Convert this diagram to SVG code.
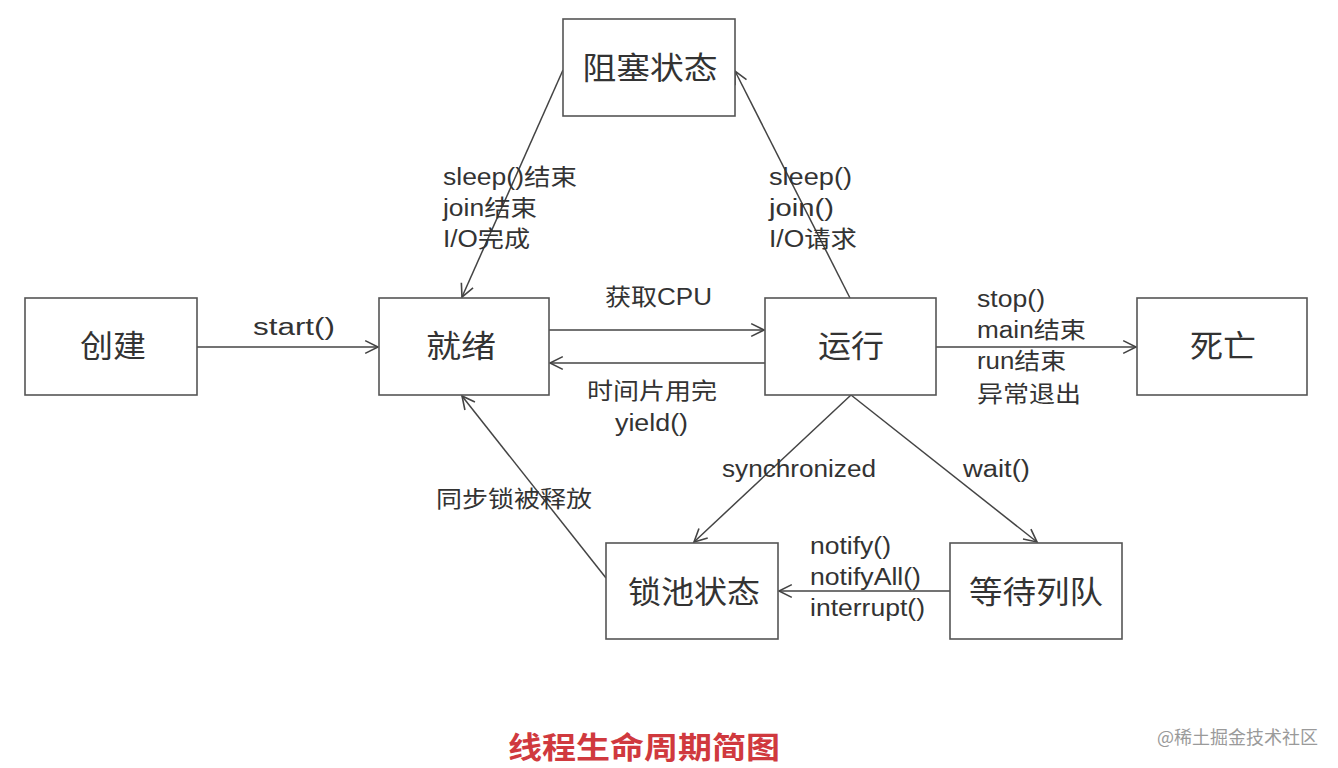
<svg xmlns="http://www.w3.org/2000/svg" width="1338" height="768" viewBox="0 0 1338 768">
<style>
.box{fill:#fff;stroke:#555;stroke-width:1.6}
.node{font-family:"Noto Sans CJK SC","Liberation Serif",serif;font-size:31px;fill:#333;text-anchor:middle}
.lbl{font-family:"Liberation Sans","Noto Sans CJK SC",sans-serif;font-size:23px;fill:#333}
.edge{stroke:#444;stroke-width:1.5;fill:none;marker-end:url(#arr)}
.title{font-family:"Noto Sans CJK SC",serif;font-size:30px;font-weight:bold;fill:#d0393e}
.wm{font-family:"Noto Sans CJK SC",sans-serif;font-size:18px;fill:#9a9a9a}
</style>
<defs>
<marker id="arr" markerUnits="userSpaceOnUse" markerWidth="16" markerHeight="16" refX="12" refY="6" orient="auto" viewBox="-1 -1 15 14">
<path d="M0,0 L12,6 L0,12" fill="none" stroke="#444" stroke-width="1.5"/>
</marker>
</defs>
<rect width="1338" height="768" fill="#fff"/>
<g id="connectors">
<line class="edge" x1="197" y1="347" x2="378" y2="347"/>
<line class="edge" x1="549" y1="330" x2="764" y2="330"/>
<line class="edge" x1="765" y1="363" x2="550" y2="363"/>
<line class="edge" x1="936" y1="347" x2="1136" y2="347"/>
<line class="edge" x1="563" y1="70" x2="462" y2="297"/>
<line class="edge" x1="850" y1="298" x2="735" y2="71"/>
<line class="edge" x1="851" y1="395" x2="694" y2="542"/>
<line class="edge" x1="851" y1="395" x2="1037" y2="542"/>
<line class="edge" x1="950" y1="591" x2="779" y2="591"/>
<line class="edge" x1="606" y1="578" x2="462" y2="396"/>
<text class="lbl" x="253" y="335" textLength="82" lengthAdjust="spacingAndGlyphs">start()</text>
<text class="lbl" x="605" y="305" textLength="107" lengthAdjust="spacingAndGlyphs">获取CPU</text>
<text class="lbl" x="587" y="399" textLength="130" lengthAdjust="spacingAndGlyphs">时间片用完</text>
<text class="lbl" x="615" y="431" textLength="73" lengthAdjust="spacingAndGlyphs">yield()</text>
<text class="lbl" x="443" y="185" textLength="134" lengthAdjust="spacingAndGlyphs">sleep()结束</text>
<text class="lbl" x="443" y="216" textLength="94" lengthAdjust="spacingAndGlyphs">join结束</text>
<text class="lbl" x="443" y="247" textLength="87" lengthAdjust="spacingAndGlyphs">I/O完成</text>
<text class="lbl" x="769" y="185" textLength="83" lengthAdjust="spacingAndGlyphs">sleep()</text>
<text class="lbl" x="769" y="216" textLength="65" lengthAdjust="spacingAndGlyphs">join()</text>
<text class="lbl" x="769" y="247" textLength="88" lengthAdjust="spacingAndGlyphs">I/O请求</text>
<text class="lbl" x="977" y="307" textLength="68" lengthAdjust="spacingAndGlyphs">stop()</text>
<text class="lbl" x="977" y="338" textLength="109" lengthAdjust="spacingAndGlyphs">main结束</text>
<text class="lbl" x="977" y="369" textLength="89" lengthAdjust="spacingAndGlyphs">run结束</text>
<text class="lbl" x="977" y="402" textLength="104" lengthAdjust="spacingAndGlyphs">异常退出</text>
<text class="lbl" x="722" y="477" textLength="154" lengthAdjust="spacingAndGlyphs">synchronized</text>
<text class="lbl" x="963" y="477" textLength="67" lengthAdjust="spacingAndGlyphs">wait()</text>
<text class="lbl" x="436" y="507" textLength="156" lengthAdjust="spacingAndGlyphs">同步锁被释放</text>
<text class="lbl" x="810" y="554" textLength="81" lengthAdjust="spacingAndGlyphs">notify()</text>
<text class="lbl" x="810" y="585" textLength="111" lengthAdjust="spacingAndGlyphs">notifyAll()</text>
<text class="lbl" x="810" y="616" textLength="115" lengthAdjust="spacingAndGlyphs">interrupt()</text>
</g>
<g id="blocked"><rect class="box" x="563" y="19" width="172" height="97"/><text class="node" x="650" y="79" textLength="135" lengthAdjust="spacingAndGlyphs">阻塞状态</text></g>
<g id="create"><rect class="box" x="25" y="298" width="172" height="97"/><text class="node" x="113" y="357" textLength="66" lengthAdjust="spacingAndGlyphs">创建</text></g>
<g id="ready"><rect class="box" x="379" y="298" width="170" height="97"/><text class="node" x="461" y="357" textLength="70" lengthAdjust="spacingAndGlyphs">就绪</text></g>
<g id="running"><rect class="box" x="765" y="298" width="171" height="97"/><text class="node" x="851" y="357" textLength="66" lengthAdjust="spacingAndGlyphs">运行</text></g>
<g id="dead"><rect class="box" x="1137" y="298" width="170" height="97"/><text class="node" x="1223" y="357" textLength="66" lengthAdjust="spacingAndGlyphs">死亡</text></g>
<g id="lockpool"><rect class="box" x="606" y="543" width="172" height="96"/><text class="node" x="694" y="603" textLength="132" lengthAdjust="spacingAndGlyphs">锁池状态</text></g>
<g id="waitqueue"><rect class="box" x="950" y="543" width="172" height="96"/><text class="node" x="1036" y="603" textLength="134" lengthAdjust="spacingAndGlyphs">等待列队</text></g>
<text class="title" x="508" y="758" textLength="272" lengthAdjust="spacingAndGlyphs">线程生命周期简图</text>
<text class="wm" x="1157" y="744" textLength="161" lengthAdjust="spacingAndGlyphs">@稀土掘金技术社区</text>
</svg>
